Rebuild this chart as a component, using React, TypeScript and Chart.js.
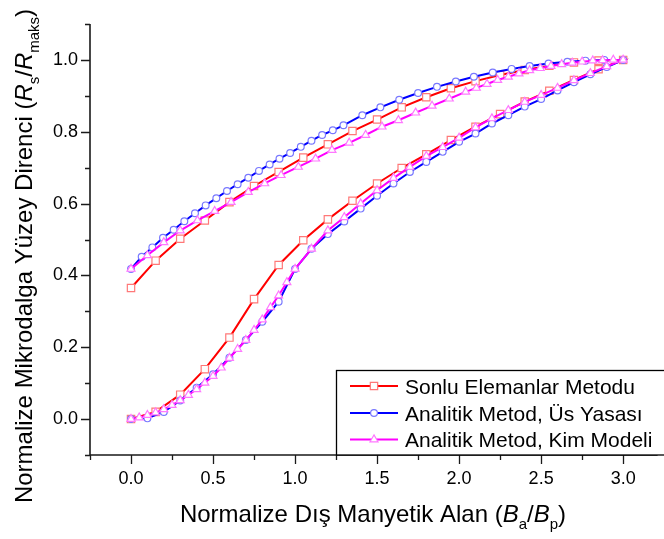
import { useEffect, useRef } from 'react';
import { Chart, registerables } from 'chart.js';
import { drawPoint } from 'chart.js/helpers';

Chart.register(...registerables);

const FONT = '"Liberation Sans", Arial, Helvetica, sans-serif';

// Axis ranges and tick values
const X_MIN = -0.25;
const X_MAX = 3.21;
const Y_MIN = -0.1;
const Y_MAX = 1.1;
const xMajorTicks = [0, 0.5, 1.0, 1.5, 2.0, 2.5, 3.0];
const xMinorTicks = [-0.25, 0.25, 0.75, 1.25, 1.75, 2.25, 2.75];
const yMajorTicks = [0, 0.2, 0.4, 0.6, 0.8, 1.0];
const yMinorTicks = [-0.1, 0.1, 0.3, 0.5, 0.7, 0.9, 1.1];

const seriesNames = [
  'Sonlu Elemanlar Metodu',
  'Analitik Metod, Üs Yasası',
  'Analitik Metod, Kim Modeli',
];

// Sonlu Elemanlar Metodu — rising field branch
const femRiseX = [0, 0.15, 0.3, 0.45, 0.6, 0.75, 0.9, 1.05, 1.2, 1.35, 1.5, 1.65, 1.8, 1.95, 2.1, 2.25, 2.4, 2.55, 2.7, 2.85, 3.0];
const femRiseY = [0, 0.02, 0.068, 0.139, 0.227, 0.334, 0.429, 0.498, 0.556, 0.608, 0.656, 0.699, 0.737, 0.777, 0.814, 0.849, 0.884, 0.914, 0.944, 0.974, 1.0];
// Sonlu Elemanlar Metodu — falling field branch (listed by increasing field)
const femFallX = [0, 0.15, 0.3, 0.45, 0.6, 0.75, 0.9, 1.05, 1.2, 1.35, 1.5, 1.65, 1.8, 1.95, 2.1, 2.25, 2.4, 2.55, 2.7, 2.85];
const femFallY = [0.365, 0.441, 0.502, 0.553, 0.604, 0.649, 0.688, 0.728, 0.765, 0.802, 0.834, 0.868, 0.896, 0.921, 0.941, 0.958, 0.972, 0.984, 0.993, 0.998];

// Analitik Metod, Üs Yasası — rising branch
const powRiseX = [0, 0.1, 0.2, 0.3, 0.4, 0.5, 0.6, 0.7, 0.8, 0.9, 1.0, 1.1, 1.2, 1.3, 1.4, 1.5, 1.6, 1.7, 1.8, 1.9, 2.0, 2.1, 2.2, 2.3, 2.4, 2.5, 2.6, 2.7, 2.8, 2.9, 3.0];
const powRiseY = [0, 0.002, 0.02, 0.052, 0.087, 0.125, 0.171, 0.22, 0.271, 0.327, 0.418, 0.474, 0.515, 0.55, 0.586, 0.622, 0.656, 0.688, 0.716, 0.744, 0.772, 0.795, 0.823, 0.846, 0.87, 0.891, 0.915, 0.938, 0.96, 0.98, 1.0];
// Analitik Metod, Üs Yasası — falling branch
const powFallX = [0, 0.065, 0.13, 0.195, 0.26, 0.325, 0.39, 0.455, 0.52, 0.585, 0.65, 0.715, 0.78, 0.845, 0.905, 0.97, 1.035, 1.1, 1.165, 1.23, 1.295, 1.41, 1.52, 1.635, 1.75, 1.865, 1.98, 2.09, 2.205, 2.32, 2.43, 2.545, 2.66, 2.77, 2.885];
const powFallY = [0.418, 0.452, 0.478, 0.505, 0.527, 0.551, 0.573, 0.595, 0.615, 0.635, 0.654, 0.672, 0.691, 0.709, 0.725, 0.741, 0.758, 0.775, 0.791, 0.804, 0.818, 0.846, 0.868, 0.889, 0.908, 0.925, 0.94, 0.953, 0.965, 0.975, 0.983, 0.99, 0.995, 0.998, 1.0];

// Analitik Metod, Kim Modeli — rising branch
const kimRiseX = [0, 0.05, 0.1, 0.15, 0.2, 0.25, 0.3, 0.35, 0.4, 0.45, 0.5, 0.55, 0.6, 0.65, 0.7, 0.75, 0.8, 0.85, 0.9, 0.95, 1.0, 1.1, 1.2, 1.3, 1.4, 1.5, 1.6, 1.7, 1.8, 1.9, 2.0, 2.1, 2.2, 2.3, 2.4, 2.5, 2.6, 2.7, 2.8, 2.9, 3.0];
const kimRiseY = [0, 0.004, 0.011, 0.018, 0.027, 0.039, 0.052, 0.067, 0.083, 0.101, 0.12, 0.143, 0.17, 0.195, 0.22, 0.248, 0.277, 0.311, 0.344, 0.381, 0.418, 0.474, 0.525, 0.562, 0.6, 0.637, 0.671, 0.702, 0.732, 0.757, 0.783, 0.812, 0.837, 0.86, 0.883, 0.902, 0.922, 0.943, 0.963, 0.982, 1.0];
// Analitik Metod, Kim Modeli — falling branch
const kimFallX = [0, 0.1, 0.2, 0.3, 0.405, 0.51, 0.61, 0.715, 0.815, 0.915, 1.02, 1.125, 1.225, 1.33, 1.43, 1.53, 1.63, 1.735, 1.835, 1.94, 2.04, 2.105, 2.17, 2.235, 2.3, 2.365, 2.43, 2.495, 2.56, 2.625, 2.69, 2.75, 2.815, 2.875, 2.94];
const kimFallY = [0.418, 0.456, 0.492, 0.525, 0.553, 0.579, 0.604, 0.632, 0.656, 0.679, 0.702, 0.725, 0.749, 0.769, 0.791, 0.814, 0.832, 0.853, 0.872, 0.892, 0.911, 0.922, 0.933, 0.944, 0.953, 0.962, 0.971, 0.977, 0.983, 0.988, 0.992, 0.995, 0.998, 0.999, 1.0];

// Join both branches into one closed hysteresis path
function loop(rx: number[], ry: number[], fx: number[], fy: number[]) {
  const pts = rx.map((x, i) => ({ x, y: ry[i] }));
  for (let i = fx.length - 1; i >= 0; i--) pts.push({ x: fx[i], y: fy[i] });
  return pts;
}

const styles = [
  { line: '#ff0000', mark: '#ff7878', pointStyle: 'rect', radius: 5.2 },
  { line: '#0000ff', mark: '#7878ff', pointStyle: 'circle', radius: 3.4 },
  { line: '#ff00ff', mark: '#ff78ff', pointStyle: 'triangle', radius: 4.6 },
];

type Seg = { t: string; italic?: boolean; sub?: boolean };

function drawRich(ctx: CanvasRenderingContext2D, segs: Seg[], size: number) {
  const subSize = Math.round(size * 0.62);
  const fontFor = (s: Seg) =>
    `${s.italic ? 'italic ' : ''}${s.sub ? subSize : size}px ${FONT}`;
  let total = 0;
  const widths = segs.map((s) => {
    ctx.font = fontFor(s);
    const w = ctx.measureText(s.t).width;
    total += w;
    return w;
  });
  let x = -total / 2;
  ctx.textAlign = 'left';
  ctx.textBaseline = 'alphabetic';
  segs.forEach((s, i) => {
    ctx.font = fontFor(s);
    ctx.fillText(s.t, x, s.sub ? size * 0.3 : 0);
    x += widths[i];
  });
}

const decorations = {
  id: 'decorations',
  afterDraw(chart: any) {
    const { ctx } = chart;
    const xs = chart.scales.x;
    const ys = chart.scales.y;
    const left = xs.getPixelForValue(X_MIN);
    const right = xs.getPixelForValue(X_MAX);
    const bottom = ys.getPixelForValue(Y_MIN);
    const top = ys.getPixelForValue(Y_MAX);
    ctx.save();

    // Axis lines and tick marks
    ctx.strokeStyle = '#1a1a1a';
    ctx.lineWidth = 1.6;
    ctx.beginPath();
    ctx.moveTo(left, top);
    ctx.lineTo(left, bottom);
    ctx.lineTo(right, bottom);
    ctx.stroke();
    ctx.lineWidth = 1.3;
    ctx.beginPath();
    yMajorTicks.forEach((v) => {
      const p = Math.round(ys.getPixelForValue(v)) + 0.5;
      ctx.moveTo(left, p);
      ctx.lineTo(left - 9, p);
    });
    yMinorTicks.forEach((v) => {
      const p = Math.round(ys.getPixelForValue(v)) + 0.5;
      ctx.moveTo(left, p);
      ctx.lineTo(left - 5, p);
    });
    xMajorTicks.forEach((v) => {
      const p = Math.round(xs.getPixelForValue(v)) + 0.5;
      ctx.moveTo(p, bottom);
      ctx.lineTo(p, bottom + 9);
    });
    xMinorTicks.forEach((v) => {
      const p = Math.round(xs.getPixelForValue(v)) + 0.5;
      ctx.moveTo(p, bottom);
      ctx.lineTo(p, bottom + 5);
    });
    ctx.stroke();

    // Axis titles
    ctx.fillStyle = '#000';
    ctx.save();
    ctx.translate(373, 522);
    drawRich(
      ctx,
      [
        { t: 'Normalize Dış Manyetik Alan (' },
        { t: 'B', italic: true },
        { t: 'a', sub: true },
        { t: '/' },
        { t: 'B', italic: true },
        { t: 'p', sub: true },
        { t: ')' },
      ],
      24
    );
    ctx.restore();
    ctx.save();
    ctx.translate(32, 256);
    ctx.rotate(-Math.PI / 2);
    drawRich(
      ctx,
      [
        { t: 'Normalize Mikrodalga Yüzey Direnci (' },
        { t: 'R', italic: true },
        { t: 's', sub: true },
        { t: '/' },
        { t: 'R', italic: true },
        { t: 'maks', sub: true },
        { t: ')' },
      ],
      24
    );
    ctx.restore();

    // Legend box
    const bx = 336.5;
    const by = 370.5;
    ctx.fillStyle = '#ffffff';
    ctx.fillRect(bx, by, 340, bottom - by);
    ctx.strokeStyle = '#000';
    ctx.lineWidth = 1.3;
    ctx.strokeRect(bx, by, 340, bottom - by);
    const rows = [386, 413, 439.5];
    seriesNames.forEach((name, i) => {
      const st = styles[i];
      const cy = rows[i];
      ctx.strokeStyle = st.line;
      ctx.lineWidth = 2;
      ctx.beginPath();
      ctx.moveTo(350, cy);
      ctx.lineTo(398, cy);
      ctx.stroke();
      ctx.fillStyle = '#ffffff';
      ctx.strokeStyle = st.mark;
      ctx.lineWidth = 1.2;
      drawPoint(ctx, { pointStyle: st.pointStyle, radius: st.radius, rotation: 0, borderWidth: 1.2 } as any, 374, cy);
      ctx.fillStyle = '#000';
      ctx.font = `21px ${FONT}`;
      ctx.textAlign = 'left';
      ctx.textBaseline = 'alphabetic';
      ctx.fillText(name, 405, cy + 7.5);
    });
    ctx.restore();
  },
};

export default function App() {
  const canvasRef = useRef<HTMLCanvasElement>(null);

  useEffect(() => {
    document.body.style.margin = '0';
    const canvas = canvasRef.current;
    if (!canvas) return;
    const loops = [
      loop(femRiseX, femRiseY, femFallX, femFallY),
      loop(powRiseX, powRiseY, powFallX, powFallY),
      loop(kimRiseX, kimRiseY, kimFallX, kimFallY),
    ];
    const chart = new Chart(canvas, {
      type: 'scatter',
      data: {
        datasets: loops.map((data, i) => ({
          label: seriesNames[i],
          data,
          showLine: true,
          tension: 0,
          borderColor: styles[i].line,
          borderWidth: 2,
          pointStyle: styles[i].pointStyle as any,
          pointRadius: styles[i].radius,
          pointBorderColor: styles[i].mark,
          pointBackgroundColor: '#ffffff',
          pointBorderWidth: 1.2,
          order: 3 - i,
        })),
      },
      options: {
        responsive: false,
        animation: false,
        devicePixelRatio: 1,
        layout: { padding: { top: 24, right: 0, left: 0, bottom: 0 } },
        plugins: { legend: { display: false }, tooltip: { enabled: false } },
        scales: {
          x: {
            type: 'linear',
            min: X_MIN,
            max: X_MAX,
            grid: { display: false, drawTicks: true, tickLength: 9 },
            border: { display: false },
            afterBuildTicks: (scale: any) => {
              scale.ticks = xMajorTicks.map((v) => ({ value: v }));
            },
            afterFit: (scale: any) => {
              scale.height = 84;
            },
            ticks: {
              color: '#000',
              font: { family: FONT, size: 18 },
              padding: 4,
              maxRotation: 0,
              callback: (v: any) => Number(v).toFixed(1),
            },
          },
          y: {
            type: 'linear',
            min: Y_MIN,
            max: Y_MAX,
            grid: { display: false, drawTicks: true, tickLength: 9 },
            border: { display: false },
            afterBuildTicks: (scale: any) => {
              scale.ticks = yMajorTicks.map((v) => ({ value: v }));
            },
            afterFit: (scale: any) => {
              scale.width = 90;
            },
            ticks: {
              color: '#000',
              font: { family: FONT, size: 18 },
              padding: 3,
              callback: (v: any) => Number(v).toFixed(1),
            },
          },
        },
      },
      plugins: [decorations],
    });
    return () => chart.destroy();
  }, []);

  return (
    <div style={{ position: 'absolute', left: 0, top: 0, width: 664, height: 539, background: '#fff' }}>
      <canvas ref={canvasRef} width={664} height={539} />
    </div>
  );
}
